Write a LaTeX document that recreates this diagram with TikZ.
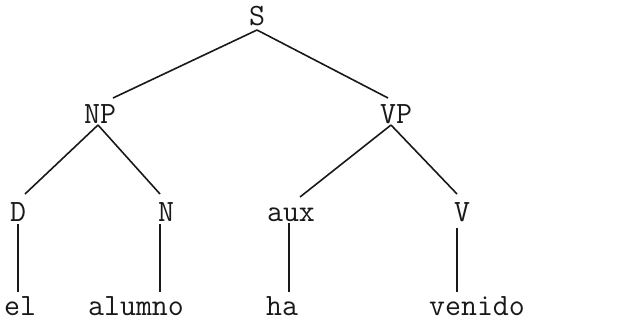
\documentclass[tikz,border=0pt]{standalone}
\usetikzlibrary{calc}
\tikzset{
  lab/.style={font=\ttfamily\fontsize{31}{31}\selectfont, inner sep=0pt, anchor=base, text=black!90},
  edge/.style={draw=black!90, line width=1.6pt},
}
\begin{document}
\begin{tikzpicture}[x=1pt,y=-1pt]
\useasboundingbox (0,0) rectangle (617,322);
% labels (positions are baselines)
\node[lab] (S)  at (257,25)  {S};
\node[lab] (NP) at (100,123) {NP};
\node[lab] (VP) at (396,123) {VP};
\node[lab] (D)  at (18,221)  {D};
\node[lab] (N)  at (166,221) {N};
\node[lab] (aux) at (291,221) {aux};
\node[lab] (V)  at (462,221) {V};
\node[lab] (el) at (20,315)  {el};
\node[lab] (alumno) at (136,315) {alumno};
\node[lab] (ha) at (282,315) {ha};
\node[lab] (venido) at (477,315) {venido};
% connectors
\draw[edge] ($(S.base)+(0,5)$) -- ($(NP.base)+(13,-25)$);
\draw[edge] ($(S.base)+(0,5)$) -- ($(VP.base)+(-8,-25)$);
\draw[edge] ($(NP.base)+(-2,2)$) -- ($(D.base)+(7,-27)$);
\draw[edge] ($(NP.base)+(-2,2)$) -- ($(N.base)+(-6,-27)$);
\draw[edge] ($(VP.base)+(-5,2)$) -- ($(aux.base)+(9,-24)$);
\draw[edge] ($(VP.base)+(-5,2)$) -- ($(V.base)+(-5,-27)$);
\draw[edge] ($(D.base)+(0,3)$) -- ($(el.base)+(-2,-23)$);
\draw[edge] ($(N.base)+(-6,3)$) -- ($(alumno.base)+(24,-23)$);
\draw[edge] ($(aux.base)+(-2,2)$) -- ($(ha.base)+(7,-23)$);
\draw[edge] ($(V.base)+(-5,7)$) -- ($(venido.base)+(-20,-23)$);
\end{tikzpicture}
\end{document}
